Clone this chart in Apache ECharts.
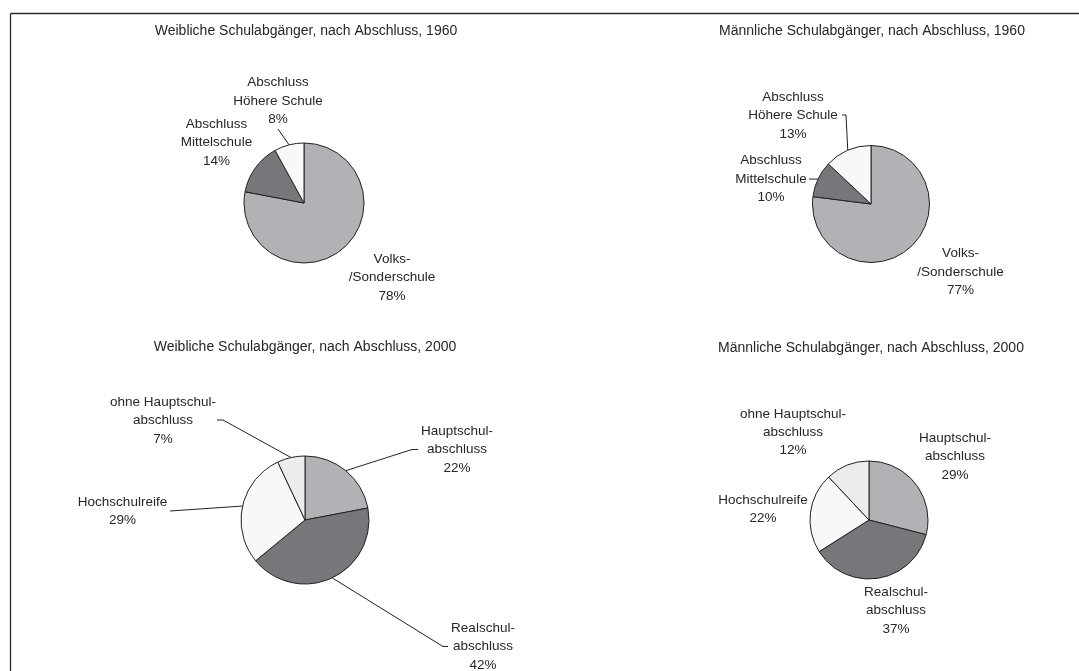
<!DOCTYPE html>
<html>
<head>
<meta charset="utf-8">
<script src="https://cdn.jsdelivr.net/npm/echarts@6/dist/echarts.min.js"></script>
<style>
html,body{margin:0;padding:0;background:#fff;}
#chart{width:1079px;height:671px;}
</style>
</head>
<body>
<div id="chart"></div>
<script>
// ---- data ----
const categories1960 = ['Volks-\n/Sonderschule', 'Abschluss\nMittelschule', 'Abschluss\nHöhere Schule'];
const female1960 = [78, 14, 8];
const male1960 = [77, 10, 13];
const categories2000 = ['Hauptschul-\nabschluss', 'Realschul-\nabschluss', 'Hochschulreife', 'ohne Hauptschul-\nabschluss'];
const female2000 = [22, 42, 29, 7];
const male2000 = [29, 37, 22, 12];
const titles = [
  'Weibliche Schulabgänger, nach Abschluss, 1960',
  'Männliche Schulabgänger, nach Abschluss, 1960',
  'Weibliche Schulabgänger, nach Abschluss, 2000',
  'Männliche Schulabgänger, nach Abschluss, 2000'
];

// ---- layout / style ----
const colors1960 = ['#b1b2b5', '#76777b', '#f8f8f8'];
const colors2000 = ['#b1b2b5', '#76777b', '#f8f8f8', '#ececec'];
const FONT = 'Liberation Sans, Arial, sans-serif';
const pies = [
  {cx: 304, cy: 203, r: 60, title: [306, 31]},
  {cx: 871, cy: 204, r: 58.5, title: [872, 31]},
  {cx: 305, cy: 520, r: 64, title: [305, 347]},
  {cx: 869, cy: 520, r: 59, title: [871, 348]}
];
// label centre positions per pie / slice
const labelPos = [
  [[392, 277.5], [216.5, 142.5], [278, 101]],
  [[960.5, 272], [771, 179], [793, 115.5]],
  [[457, 449.5], [483, 646.5], [122.5, 511], [163, 420.5]],
  [[955, 456.5], [896, 610.7], [763, 509], [793, 432.3]]
];
// leader line extra points (after slice edge point); null = no leader
const leaders = [
  [null, null, [[278, 129]]],
  [null, [[809, 179]], [[846, 115], [842, 115]]],
  [[[412, 449.5], [418, 449.5]], [[443, 646.5], [448, 646.5]], [[170, 511]], [[223, 420], [217, 420]]],
  [null, null, null, null]
];

const seriesData = [female1960, male1960, female2000, male2000];
const seriesCats = [categories1960, categories1960, categories2000, categories2000];
const seriesColors = [colors1960, colors1960, colors2000, colors2000];

function edgePoint(si, di) {
  const vals = seriesData[si];
  const total = vals.reduce((a, b) => a + b, 0);
  let cum = 0;
  for (let i = 0; i < di; i++) cum += vals[i];
  const a = 2 * Math.PI * (cum + vals[di] / 2) / total;
  const p = pies[si];
  return [p.cx + p.r * Math.sin(a), p.cy - p.r * Math.cos(a)];
}

const chart = echarts.init(document.getElementById('chart'), null, {renderer: 'canvas'});

const series = seriesData.map((vals, si) => ({
  type: 'pie',
  center: [pies[si].cx, pies[si].cy],
  radius: pies[si].r,
  startAngle: 90,
  clockwise: true,
  silent: true,
  animation: false,
  avoidLabelOverlap: false,
  emphasis: {disabled: true},
  itemStyle: {borderColor: '#222', borderWidth: 1},
  label: {
    show: true,
    position: 'outside',
    formatter: '{b}\n{c}%',
    fontFamily: FONT,
    fontSize: 13.5,
    lineHeight: 18.3,
    color: '#262626',
    align: 'center'
  },
  labelLine: {show: true, lineStyle: {color: '#222', width: 1}},
  labelLayout: function (params) {
    const si = params.seriesIndex, di = params.dataIndex;
    const pos = labelPos[si][di];
    const res = {x: pos[0], y: pos[1], align: 'center', verticalAlign: 'middle'};
    const lead = leaders[si][di];
    if (lead) {
      res.labelLinePoints = [edgePoint(si, di)].concat(lead);
    }
    return res;
  },
  data: vals.map((v, di) => ({
    name: seriesCats[si][di],
    value: v,
    itemStyle: {color: seriesColors[si][di]},
    labelLine: {show: !!leaders[si][di]}
  }))
}));

const graphics = [
  {type: 'line', shape: {x1: 10.5, y1: 13.5, x2: 1079, y2: 13.5}, style: {stroke: '#2a2a2a', lineWidth: 1.3}, silent: true},
  {type: 'line', shape: {x1: 10.5, y1: 13.5, x2: 10.5, y2: 671}, style: {stroke: '#2a2a2a', lineWidth: 1.3}, silent: true}
].concat(titles.map((t, i) => ({
  type: 'text',
  x: pies[i].title[0],
  y: pies[i].title[1],
  silent: true,
  style: {text: t, align: 'center', verticalAlign: 'middle', fontFamily: FONT, fontSize: 14, fill: '#262626'}
})));

chart.setOption({
  backgroundColor: '#ffffff',
  animation: false,
  graphic: graphics,
  series: series
});
</script>
</body>
</html>
